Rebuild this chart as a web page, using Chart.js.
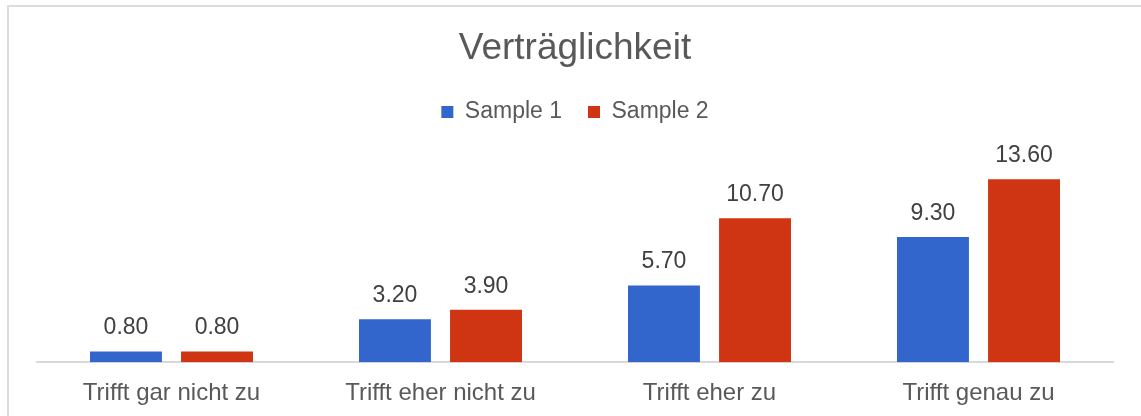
<!DOCTYPE html>
<html>
<head>
<meta charset="utf-8">
<script src="https://cdn.jsdelivr.net/npm/chart.js@4"></script>
<style>
  html, body { margin: 0; padding: 0; background: #fff; overflow: hidden; }
  #wrap { position: relative; width: 1141px; height: 416px; }
  #frame { position: absolute; left: 7px; top: 5px; width: 1200px; height: 500px; border: 2px solid #dcdcdc; }
  canvas { position: absolute; left: 0; top: 0; }
</style>
</head>
<body>
<div id="wrap">
  <div id="frame"></div>
  <canvas id="grafico" width="1141" height="416"></canvas>
</div>
<script>
// Werte
const kategorien = ['Trifft gar nicht zu', 'Trifft eher nicht zu', 'Trifft eher zu', 'Trifft genau zu'];
const sample1 = [0.8, 3.2, 5.7, 9.3];
const sample2 = [0.8, 3.9, 10.7, 13.6];

const schrift = '"Liberation Sans", Arial, sans-serif';

// Werte über den Balken zeichnen
const wertBeschriftung = {
    id: 'wertBeschriftung',
    afterDatasetsDraw(chart) {
        const ctx = chart.ctx;
        ctx.save();
        ctx.font = '23px ' + schrift;
        ctx.fillStyle = '#404040';
        ctx.textAlign = 'center';
        ctx.textBaseline = 'alphabetic';
        chart.data.datasets.forEach((ds, i) => {
            chart.getDatasetMeta(i).data.forEach((bar, j) => {
                ctx.fillText(ds.data[j].toFixed(2), bar.x, bar.y - 17);
            });
        });
        ctx.restore();
    }
};

const config = {
    type: 'bar',
    data: {
        labels: kategorien,
        datasets: [{
            label: 'Sample 1',
            data: sample1,
            backgroundColor: '#3366CC'
        }, {
            label: 'Sample 2',
            data: sample2,
            backgroundColor: '#CF3512'
        }]
    },
    options: {
        responsive: false,
        animation: false,
        categoryPercentage: 0.677,
        barPercentage: 0.79,
        layout: { padding: { top: 15, bottom: -9, left: 37, right: 28 } },
        scales: {
            x: {
                grid: { display: false, drawTicks: false },
                border: { display: true, color: '#d9d9d9', width: 2 },
                ticks: { color: '#595959', font: { family: schrift, size: 24 }, padding: 17 }
            },
            y: {
                display: false,
                min: 0,
                max: 17
            }
        },
        plugins: {
            title: {
                display: true,
                text: 'Verträglichkeit',
                color: '#595959',
                font: { family: schrift, size: 37, weight: 'normal' },
                padding: { top: 12, bottom: 3 }
            },
            legend: {
                position: 'top',
                labels: {
                    boxWidth: 12,
                    boxHeight: 12,
                    padding: 26,
                    color: '#595959',
                    font: { family: schrift, size: 23 }
                }
            },
            tooltip: { enabled: false }
        }
    },
    plugins: [wertBeschriftung]
};

new Chart(document.getElementById('grafico'), config);
</script>
</body>
</html>
